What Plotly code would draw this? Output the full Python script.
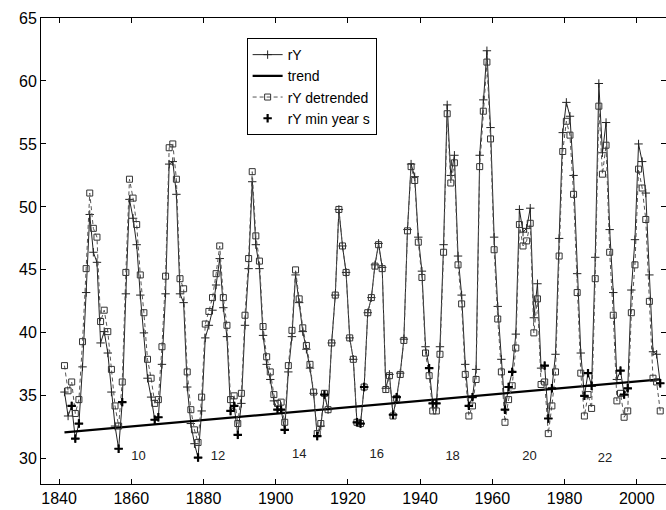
import plotly.graph_objects as go

# ------------------------------ data ------------------------------
years = [y + 0.5 for y in range(1841, 2007)]

rY = [
    35.3, 33.4, 34.2, 31.6, 32.8, 37.3, 43.2, 49.4, 46.4, 45.6,   # 1841-1850
    39.2, 40.1, 38.4, 35.3, 32.6, 30.8, 34.5, 43.1, 50.6, 49.1,   # 1851-1860
    47.0, 43.0, 40.0, 36.4, 34.9, 33.1, 33.3, 37.5, 43.1, 53.4,   # 1861-1870
    53.6, 51.0, 43.1, 42.4, 35.7, 32.8, 31.2, 30.1, 33.8, 39.6,   # 1871-1880
    40.6, 41.8, 43.8, 45.9, 42.0, 39.7, 33.8, 34.2, 31.9, 34.4,   # 1881-1890
    40.6, 45.1, 52.0, 47.0, 45.1, 39.8, 37.5, 36.3, 34.6, 33.9,   # 1891-1900
    33.9, 32.3, 36.9, 39.7, 44.6, 42.4, 40.1, 38.7, 37.2, 35.2,   # 1901-1910
    31.8, 32.6, 35.1, 33.9, 39.2, 43.0, 49.8, 46.9, 44.8, 39.6,   # 1911-1920
    37.9, 32.9, 32.8, 35.7, 41.6, 42.8, 45.4, 47.1, 45.2, 35.6,   # 1921-1930
    36.7, 33.5, 34.9, 36.8, 39.5, 48.2, 53.4, 52.4, 47.6, 44.9,   # 1931-1940
    38.9, 37.2, 34.4, 34.4, 38.9, 47.0, 58.1, 52.5, 54.1, 46.1,   # 1941-1950
    43.0, 37.5, 34.2, 34.9, 37.1, 54.1, 58.5, 62.4, 56.3, 47.6,   # 1951-1960
    42.1, 37.9, 33.9, 35.7, 36.9, 39.9, 49.8, 48.0, 48.3, 49.9,   # 1961-1970
    41.2, 43.9, 37.2, 37.4, 33.2, 35.6, 38.3, 47.5, 55.9, 58.3,   # 1971-1980
    57.2, 52.5, 44.7, 38.4, 35.0, 36.8, 35.8, 46.0, 59.8, 54.3,   # 1981-1990
    56.7, 48.2, 43.2, 36.3, 37.0, 35.1, 35.6, 43.4, 47.4, 55.0,   # 1991-2000
    53.6, 51.1, 44.6, 38.5, 38.3, 36.0,                           # 2001-2006
]

rY_detrended = [
    37.4, 35.4, 36.1, 33.6, 34.7, 39.3, 45.1, 51.1, 48.3, 47.6,
    40.9, 41.8, 40.1, 37.1, 34.2, 32.6, 36.1, 44.8, 52.2, 50.7,
    48.6, 44.6, 41.6, 37.9, 36.4, 34.4, 34.7, 38.9, 44.5, 54.7,
    55.0, 52.2, 44.3, 43.5, 36.9, 33.9, 32.3, 31.3, 34.9, 40.7,
    41.7, 42.8, 44.7, 46.9, 42.8, 40.6, 34.7, 35.0, 32.8, 35.2,
    41.4, 45.9, 52.8, 47.7, 45.7, 40.5, 38.1, 36.9, 35.1, 34.4,
    34.5, 32.9, 37.4, 40.2, 45.0, 42.7, 40.4, 39.0, 37.5, 35.3,
    32.0, 32.8, 35.2, 33.9, 39.2, 43.0, 49.8, 46.9, 44.8, 39.6,
    37.9, 32.9, 32.8, 35.7, 41.6, 42.8, 45.3, 47.0, 45.1, 35.5,
    36.6, 33.4, 34.8, 36.7, 39.4, 48.1, 53.2, 52.1, 47.2, 44.4,
    38.4, 36.6, 33.8, 33.8, 38.3, 46.4, 57.4, 51.9, 53.5, 45.4,
    42.3, 36.7, 33.4, 34.2, 36.3, 53.2, 57.6, 61.5, 55.4, 46.6,
    41.1, 36.9, 32.9, 34.7, 35.8, 38.8, 48.6, 46.9, 47.3, 48.7,
    40.0, 42.7, 35.9, 36.1, 32.0, 34.2, 36.9, 46.1, 54.4, 56.8,
    55.7, 51.0, 43.2, 36.8, 33.4, 35.1, 34.0, 44.3, 58.0, 52.6,
    54.9, 46.4, 41.4, 34.6, 35.2, 33.3, 33.8, 41.6, 45.4, 53.0,
    51.5, 49.0, 42.5, 36.4, 36.1, 33.8,
]

trend_years = [1841.5, 2006.5]
trend_vals = [32.1, 36.3]

# years flagged as cycle minima (bold crosses)
min_years = [1843, 1844, 1845, 1856, 1857, 1866, 1867, 1878, 1887, 1888, 1889,
             1900, 1901, 1902, 1911, 1913, 1922, 1923, 1924, 1932, 1933,
             1942, 1943, 1944, 1953, 1954, 1963, 1964, 1965, 1974, 1975, 1976,
             1985, 1986, 1987, 1995, 1996, 1997, 2006]

cycle_labels = ["10", "12", "14", "16", "18", "20", "22"]
cycle_label_x = [1862, 1884, 1906.5, 1928, 1949, 1970.3, 1991.2]
cycle_label_y = [30.2, 30.2, 30.3, 30.3, 30.2, 30.2, 30.0]

# -------------------------------------- plot --------------------------------------
min_x = [y + 0.5 for y in min_years]
min_v = [rY[y - 1841] for y in min_years]

fig = go.Figure()

fig.add_trace(go.Scatter(
    x=years, y=rY, name="rY", mode="lines+markers",
    line=dict(color="#222222", width=1),
    marker=dict(symbol="cross-thin", size=6, line=dict(color="#222222", width=1)),
))

fig.add_trace(go.Scatter(
    x=trend_years, y=trend_vals, name="trend", mode="lines",
    line=dict(color="black", width=2.2),
))

fig.add_trace(go.Scatter(
    x=years, y=rY_detrended, name="rY detrended", mode="lines+markers",
    line=dict(color="#555555", width=1, dash="4px,3px"),
    marker=dict(symbol="square-open", size=6, color="#333333", line=dict(width=1)),
))

fig.add_trace(go.Scatter(
    x=min_x, y=min_v, name="rY min year s", mode="markers",
    marker=dict(symbol="cross-thin", size=6, line=dict(color="black", width=2.2)),
))

fig.add_trace(go.Scatter(
    x=cycle_label_x, y=cycle_label_y, text=cycle_labels, mode="text",
    textfont=dict(size=13, color="#222222", family="Liberation Sans, Arial"),
    showlegend=False, hoverinfo="skip",
))

axis_style = dict(
    showline=True, linecolor="black", linewidth=1, mirror="ticks",
    ticks="inside", ticklen=5, tickcolor="black", showgrid=False, zeroline=False,
    tickfont=dict(size=16, color="black", family="Liberation Sans, Arial"),
)

fig.update_xaxes(range=[1835.0, 2008.1], tickvals=[1840, 1860, 1880, 1900, 1920, 1940, 1960, 1980, 2000],
                 **axis_style)
fig.update_yaxes(range=[28, 65], tickvals=[30, 35, 40, 45, 50, 55, 60, 65], **axis_style)

fig.update_layout(
    width=666, height=510,
    margin=dict(l=41, r=0, t=18, b=26),
    plot_bgcolor="white", paper_bgcolor="white",
    font=dict(family="Liberation Sans, Arial", color="black"),
    legend=dict(
        x=0.329, y=0.957, xanchor="left", yanchor="top",
        bordercolor="black", borderwidth=1, bgcolor="white",
        font=dict(size=14), itemwidth=30, tracegroupgap=0,
    ),
)

fig.write_html("out.html", config={"displayModeBar": False},
               post_script="document.body.style.margin='0px';")
